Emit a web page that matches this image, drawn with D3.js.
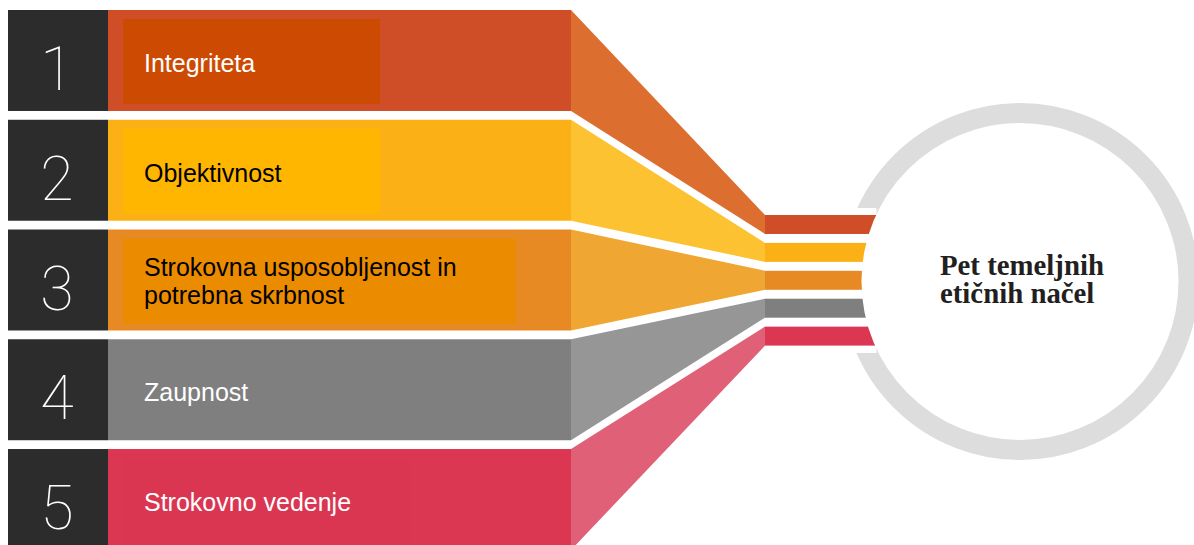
<!DOCTYPE html>
<html>
<head>
<meta charset="utf-8">
<script src="https://cdn.jsdelivr.net/npm/d3@7"></script>
<style>
  html, body { margin: 0; padding: 0; background: #ffffff; }
  svg { display: block; }
</style>
</head>
<body>
<svg id="chart" width="1194" height="545"></svg>
<script>
// ---- data ----
const numbers = ["1", "2", "3", "4", "5"];
const labels = [
  ["Integriteta"],
  ["Objektivnost"],
  ["Strokovna usposobljenost in", "potrebna skrbnost"],
  ["Zaupnost"],
  ["Strokovno vedenje"]
];
const barColors    = ["#CF4E27", "#FBB116", "#E88A23", "#7F7F7F", "#DB3753"];
const innerColors  = ["#CD4A02", "#FFB600", "#EB8C00", "#7F7F7F", "#DA3652"];
const funnelColors = ["#DC6E30", "#FDC232", "#F0A633", "#969696", "#E06077"];
const textColors   = ["#ffffff", "#000000", "#000000", "#ffffff", "#ffffff"];
const centerTitle  = ["Pet temeljnih", "etičnih načel"];

// ---- layout ----
const svg = d3.select("#chart");
const W = 1194, H = 545;

const rowScale = d3.scaleBand().domain(numbers).range([10, 550]).paddingInner(0.08).paddingOuter(0);
const smallScale = d3.scaleBand().domain(numbers).range([215, 345.6]).paddingInner(0.32).paddingOuter(0);

const xNumL = 8, xBarL = 108, xBarR = 571, xFunR = 765;
const cx = 1020, cy = 281.5, rInner = 158.5, rOuter = 178.5;

const rows = numbers.map((n, i) => ({
  n, i, lines: labels[i], bar: barColors[i], inner: innerColors[i],
  funnel: funnelColors[i], text: textColors[i]
}));

// ring
svg.append("circle")
  .attr("cx", cx).attr("cy", cy)
  .attr("r", (rInner + rOuter) / 2)
  .attr("fill", "none")
  .attr("stroke", "#DDDDDD")
  .attr("stroke-width", rOuter - rInner);

// white gap where bars enter the ring
svg.append("rect")
  .attr("x", cx - rOuter - 5).attr("y", 208)
  .attr("width", 40).attr("height", 353 - 208)
  .attr("fill", "#ffffff");

// clip for small bars
const defs = svg.append("defs");
defs.append("clipPath").attr("id", "circClip")
  .append("path")
  .attr("d", `M0,0 H${W} V${H} H0 Z M${cx - rInner},${cy} a${rInner},${rInner} 0 1,0 ${2 * rInner},0 a${rInner},${rInner} 0 1,0 ${-2 * rInner},0 Z`)
  .attr("clip-rule", "evenodd");

const g = svg.append("g");

// number column
g.selectAll("rect.num").data(rows).join("rect")
  .attr("class", "num")
  .attr("x", xNumL).attr("y", d => rowScale(d.n))
  .attr("width", xBarL - xNumL).attr("height", rowScale.bandwidth())
  .attr("fill", "#2C2C2C");

g.selectAll("text.num").data(rows).join("text")
  .attr("class", "num")
  .attr("x", 57).attr("y", d => rowScale(d.n) + 80)
  .attr("text-anchor", "middle")
  .attr("fill", "#ffffff")
  .style("font-family", "Roboto, 'Open Sans', sans-serif")
  .style("font-weight", 100)
  .style("font-size", "61px")
  .text(d => d.n);

// outer bars
g.selectAll("rect.bar").data(rows).join("rect")
  .attr("class", "bar")
  .attr("x", xBarL).attr("y", d => rowScale(d.n))
  .attr("width", xBarR - xBarL).attr("height", rowScale.bandwidth())
  .attr("fill", d => d.bar);

// labels (first, to measure widths)
const labelG = g.append("g");
const labelTexts = labelG.selectAll("text").data(rows).join("text")
  .attr("x", 144)
  .attr("fill", d => d.text)
  .style("font-family", "'Liberation Sans', Arial, sans-serif")
  .style("font-size", "25px");
labelTexts.each(function(d) {
  const t = d3.select(this);
  const top = rowScale(d.n);
  const base = d.lines.length > 1 ? top + 46 : top + 62;
  d.lines.forEach((ln, k) => {
    t.append("tspan").attr("x", 144).attr("y", base + k * 28).text(ln);
  });
  let w = 0;
  t.selectAll("tspan").each(function() { w = Math.max(w, this.getComputedTextLength()); });
  d.textW = w;
});

// inner boxes, inserted beneath labels
g.selectAll("rect.inner").data(rows).join("rect")
  .attr("class", "inner")
  .attr("x", 123).attr("y", d => rowScale(d.n) + 9)
  .attr("width", d => Math.max(257, d.textW + 80))
  .attr("height", rowScale.bandwidth() - 16)
  .attr("fill", d => d.inner);
labelG.raise();

// funnel trapezoids
g.selectAll("path.funnel").data(rows).join("path")
  .attr("class", "funnel")
  .attr("d", d => {
    const t0 = rowScale(d.n), b0 = t0 + rowScale.bandwidth();
    const t1 = smallScale(d.n), b1 = t1 + smallScale.bandwidth();
    return d3.line()([[xBarR, t0], [xFunR, t1], [xFunR, b1], [xBarR, b0]]) + "Z";
  })
  .attr("fill", d => d.funnel);

// small bars entering the circle
g.append("g").attr("clip-path", "url(#circClip)")
  .selectAll("rect").data(rows).join("rect")
  .attr("x", xFunR).attr("y", d => smallScale(d.n))
  .attr("width", cx - xFunR).attr("height", smallScale.bandwidth())
  .attr("fill", d => d.bar);

// center title
const title = svg.append("text")
  .attr("fill", "#231F20")
  .style("font-family", "'Liberation Serif', 'Times New Roman', serif")
  .style("font-weight", "bold")
  .style("font-size", "28.8px");
centerTitle.forEach((ln, k) => {
  title.append("tspan").attr("x", 940).attr("y", 275 + k * 27.5).text(ln);
});
</script>
</body>
</html>
